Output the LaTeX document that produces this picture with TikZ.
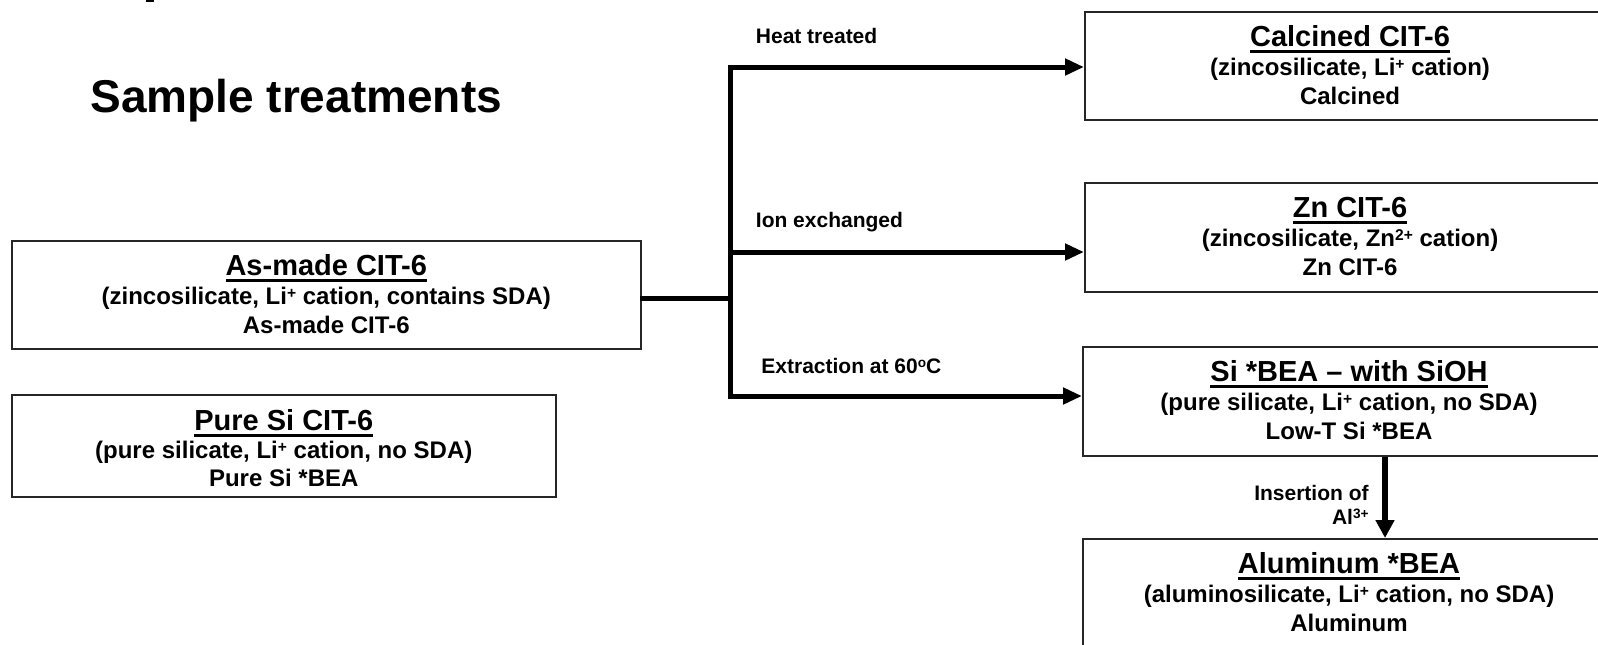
\documentclass[tikz,border=0pt]{standalone}
\usepackage{fontspec}
\setmainfont{Liberation Sans}
\usetikzlibrary{arrows.meta,calc}
\newcommand\ulx[1]{\setbox0\hbox{#1}\rlap{\rule[-3.5pt]{\wd0}{1.5pt}}\box0}
\newcommand\sups[1]{\raisebox{0.25em}{\scalebox{0.65}{#1}}}
\tikzset{
  box/.style={draw=black!85, line width=1pt, inner sep=0pt, rectangle},
  hd/.style={anchor=base, font=\bfseries\fontsize{14.5}{17}\selectfont, inner sep=0pt},
  sub/.style={anchor=base, font=\bfseries\fontsize{12}{14}\selectfont, inner sep=0pt},
  lbl/.style={font=\bfseries\fontsize{10.5}{12}\selectfont, inner sep=0pt},
  conn/.style={line width=2.5pt, line cap=rect},
  arr/.style={conn, -{Triangle[length=9.5pt,width=8pt]}},
  varr/.style={line width=3pt, -{Triangle[length=9pt,width=9pt]}},
}
\begin{document}
\begin{tikzpicture}[x=0.5pt,y=-0.5pt]
\useasboundingbox (0,0) rectangle (1598,644);
\fill[white] (0,0) rectangle (1598,644);
\begin{scope}
\clip (0,0) rectangle (1598,644);
% small cut-off mark at the top
\fill[black] (146,0) rectangle (154,2);
% title
\node[anchor=base west, inner sep=0pt, font=\bfseries\fontsize{23}{27}\selectfont] (title) at (90,112) {Sample treatments};
% boxes
\node[box, minimum width=314.75pt, minimum height=54pt] (asmade) at (326.25,295) {};
\node[box, minimum width=272.25pt, minimum height=51pt] (puresi) at (283.75,446) {};
\node[box, minimum width=265pt, minimum height=54pt] (calc) at (1350,66) {};
\node[box, minimum width=265pt, minimum height=54.5pt] (zn) at (1350,237.5) {};
\node[box, minimum width=266pt, minimum height=54.5pt] (si) at (1349,401.5) {};
\node[box, minimum width=266pt, minimum height=54pt] (al) at (1349,593) {};
% box texts
\node[hd]  at ($(asmade.north)+(0,35)$) {\ulx{As-made CIT-6}};
\node[sub] at ($(asmade.north)+(0,64)$) {(zincosilicate, Li\sups{+} cation, contains SDA)};
\node[sub] at ($(asmade.north)+(0,93)$) {As-made CIT-6};
\node[hd]  at ($(puresi.north)+(0,36)$) {\ulx{Pure Si CIT-6}};
\node[sub] at ($(puresi.north)+(0,64)$) {(pure silicate, Li\sups{+} cation, no SDA)};
\node[sub] at ($(puresi.north)+(0,92)$) {Pure Si *BEA};
\node[hd]  at ($(calc.north)+(0,35)$) {\ulx{Calcined CIT-6}};
\node[sub] at ($(calc.north)+(0,64)$) {(zincosilicate, Li\sups{+} cation)};
\node[sub] at ($(calc.north)+(0,93)$) {Calcined};
\node[hd]  at ($(zn.north)+(0,35)$) {\ulx{Zn CIT-6}};
\node[sub] at ($(zn.north)+(0,64)$) {(zincosilicate, Zn\sups{2+} cation)};
\node[sub] at ($(zn.north)+(0,93)$) {Zn CIT-6};
\node[hd]  at ($(si.north)+(0,35)$) {\ulx{Si *BEA – with SiOH}};
\node[sub] at ($(si.north)+(0,64)$) {(pure silicate, Li\sups{+} cation, no SDA)};
\node[sub] at ($(si.north)+(0,93)$) {Low-T Si *BEA};
\node[hd]  at ($(al.north)+(0,35)$) {\ulx{Aluminum *BEA}};
\node[sub] at ($(al.north)+(0,64)$) {(aluminosilicate, Li\sups{+} cation, no SDA)};
\node[sub] at ($(al.north)+(0,93)$) {Aluminum};
% junction coordinates
\coordinate (jM) at (730.5,298);
\coordinate (jA) at (730.5,67);
\coordinate (jB) at (730.5,252);
\coordinate (jC) at (730.5,396);
% connectors
\draw[conn] (asmade.east |- jM) -- (jM);
\draw[conn] (jA) -- (jC);
\draw[arr] (jA) -- (jA -| calc.west);
\draw[arr] (jB) -- (jB -| zn.west);
\draw[arr] (jC) -- (jC -| si.west);
\draw[varr] ($(si.south)+(36,0)$) -- ($(al.north)+(36,0)$);
% labels
\node[lbl, anchor=base west] (lheat) at (755.5,43) {Heat treated};
\node[lbl, anchor=base west] (lion) at (755.5,227) {Ion exchanged};
\node[lbl, anchor=base west] (lext) at (761,373) {Extraction at 60\sups{o}C};
\node[lbl, anchor=base east] (lins) at (1369,500) {Insertion of};
\node[lbl, anchor=base east] (lal) at (1369,524) {Al\sups{3+}};
\end{scope}
\end{tikzpicture}
\end{document}
